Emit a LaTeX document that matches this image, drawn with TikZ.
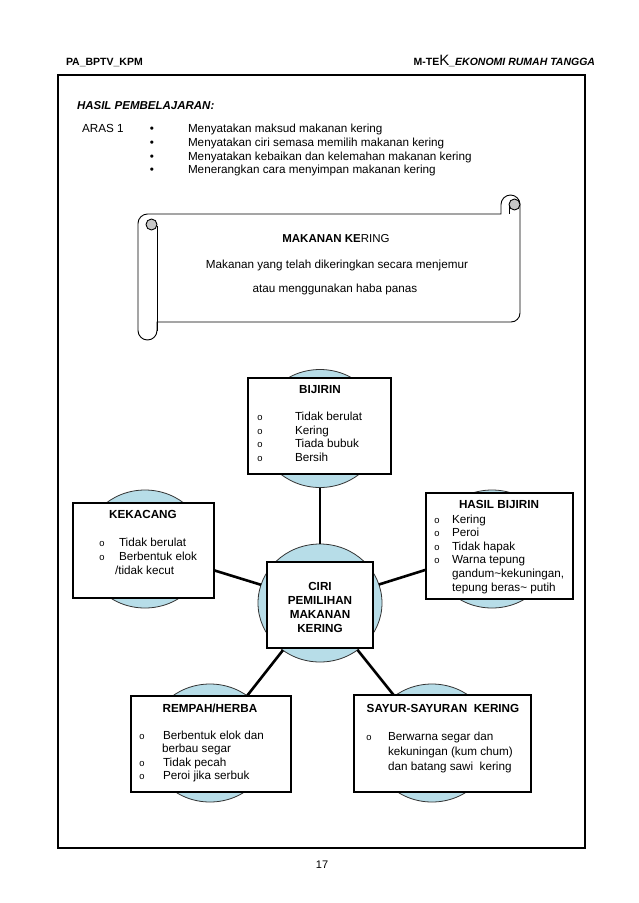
\documentclass[tikz,border=0pt]{standalone}
\usepackage{fontspec}
\setmainfont{Liberation Sans}
\setmonofont{Liberation Mono}
\usetikzlibrary{shapes.geometric}
\definecolor{cfill}{RGB}{183,221,232}
\definecolor{curlgray}{RGB}{200,200,200}
\begin{document}
\begin{tikzpicture}[x=1pt,y=-1pt,
  every node/.style={inner sep=0pt, outer sep=0pt},
  txt/.style={anchor=base west, font=\fontsize{11.7}{14}\selectfont},
  ctr/.style={anchor=base, font=\fontsize{11.7}{14}\selectfont},
  ttl/.style={anchor=base, font=\fontsize{11.7}{14}\selectfont\bfseries},
  obul/.style={anchor=base, font=\fontsize{9.5}{10}\ttfamily},
  dbul/.style={anchor=base, font=\fontsize{11.7}{14}\selectfont},
  blob/.style={ellipse, draw=black!80, line width=0.8pt, fill=cfill, minimum width=124pt, minimum height=118pt},
  card/.style={rectangle, draw=black, line width=1.1pt, fill=white},
  conn/.style={line width=2.6pt, black},
  scrollline/.style={line width=0.9pt, black},
]
\useasboundingbox (0,0) rectangle (638,903);
\fill[white] (0,0) rectangle (638,903);

% header
\node[anchor=base west, font=\fontsize{10.5}{12}\selectfont\bfseries] (hl) at (66,65) {PA\_BPTV\_KPM};
\node[anchor=base east, font=\fontsize{10.5}{12}\selectfont\bfseries] (hr) at (595,65) {M-TE{\fontsize{15}{15}\selectfont\mdseries K}\textit{\_EKONOMI RUMAH TANGGA}};

% frame
\draw[line width=2.6pt] (58,75) rectangle (585,848);

% learning outcomes
\node[anchor=base west, font=\fontsize{11.5}{14}\selectfont\bfseries\itshape] (hp) at (77,109.5) {HASIL PEMBELAJARAN:};
\node[txt] (aras) at (82,132.5) {ARAS 1};
\node[dbul] (b1) at (152,132.5) {\textbullet};
\node[dbul] (b2) at (152,146.3) {\textbullet};
\node[dbul] (b3) at (152,160.1) {\textbullet};
\node[dbul] (b4) at (152,173.9) {\textbullet};
\node[txt] (l1) at (188,132.5) {Menyatakan maksud makanan kering};
\node[txt] (l2) at (188,146.3) {Menyatakan ciri semasa memilih makanan kering};
\node[txt] (l3) at (188,160.1) {Menyatakan kebaikan dan kelemahan makanan kering};
\node[txt] (l4) at (188,173.9) {Menerangkan cara menyimpan makanan kering};

% scroll
\draw[scrollline, fill=white] (157,322) -- (511,322) arc[start angle=90, end angle=0, radius=9]
  -- (520,204.5) arc[start angle=0, end angle=-180, radius=9.5]
  -- (501,214) -- (147.5,214) arc[start angle=-90, end angle=-180, radius=9.5]
  -- (138,330.5) arc[start angle=180, end angle=0, radius=9.5] -- cycle;
\draw[scrollline] (157,226) -- (157,330.5);
\draw[scrollline, fill=curlgray] (151.5,224.5) circle[radius=5.5];
\draw[scrollline, fill=curlgray] (514.5,204.5) circle[radius=5.5];
\draw[scrollline] (509,204.5) -- (509,214);
\node[anchor=base, font=\fontsize{11.5}{14}\selectfont] (st) at (336,242) {\textbf{MAKANAN KE}RING};
\node[ctr] (s1) at (337,268) {Makanan yang telah dikeringkan secara menjemur};
\node[ctr] (s2) at (335,292.5) {atau menggunakan haba panas};

% circles
\node[blob] (c0) at (320,603) {};
\node[blob] (c1) at (320,428.5) {};
\node[blob] (c2) at (145,549) {};
\node[blob] (c3) at (492,549) {};
\node[blob] (c4) at (210,743) {};
\node[blob] (c5) at (432,743) {};

% connectors
\draw[conn] (c0) -- (c1);
\draw[conn] (c0) -- (c2);
\draw[conn] (c0) -- (c3);
\draw[conn] (c0) -- (c4);
\draw[conn] (c0) -- (c5);

% cards
\node[card, minimum width=143pt, minimum height=96pt] (k1) at (319.5,426) {};
\node[card, minimum width=141pt, minimum height=95pt] (k2) at (143.5,550.5) {};
\node[card, minimum width=147pt, minimum height=106pt] (k3) at (499.5,546) {};
\node[card, minimum width=106pt, minimum height=86pt] (k0) at (320,605) {};
\node[card, minimum width=160pt, minimum height=96pt] (k4) at (211,744) {};
\node[card, minimum width=177pt, minimum height=97pt] (k5) at (442.5,743.5) {};

% BIJIRIN
\node[ttl] (t1) at (320,393) {BIJIRIN};
\node[obul] (o11) at (260,420.5) {o};
\node[obul] (o12) at (260,434.2) {o};
\node[obul] (o13) at (260,447.9) {o};
\node[obul] (o14) at (260,461.6) {o};
\node[txt] (x11) at (295,420.5) {Tidak berulat};
\node[txt] (x12) at (295,434.2) {Kering};
\node[txt] (x13) at (295,447.9) {Tiada bubuk};
\node[txt] (x14) at (295,461.6) {Bersih};

% KEKACANG
\node[ttl] (t2) at (143,518) {KEKACANG};
\node[obul] (o21) at (102,546) {o};
\node[obul] (o22) at (102,560) {o};
\node[txt] (x21) at (119,546) {Tidak berulat};
\node[txt] (x22) at (119,560) {Berbentuk elok};
\node[txt] (x23) at (115,574) {/tidak kecut};

% HASIL BIJIRIN
\node[ttl] (t3) at (499,508) {HASIL BIJIRIN};
\node[obul] (o31) at (437,523) {o};
\node[obul] (o32) at (437,536.6) {o};
\node[obul] (o33) at (437,550.2) {o};
\node[obul] (o34) at (437,563.8) {o};
\node[txt] (x31) at (452,523) {Kering};
\node[txt] (x32) at (452,536.6) {Peroi};
\node[txt] (x33) at (452,550.2) {Tidak hapak};
\node[txt] (x34) at (452,563.8) {Warna tepung};
\node[txt] (x35) at (452,577.4) {gandum\char`\~kekuningan,};
\node[txt] (x36) at (452,591) {tepung beras\char`\~{} putih};

% centre
\node[ttl] (t01) at (320,590) {CIRI};
\node[ttl] (t02) at (320,604) {PEMILIHAN};
\node[ttl] (t03) at (320,618) {MAKANAN};
\node[ttl] (t04) at (320,632) {KERING};

% REMPAH/HERBA
\node[ttl] (t4) at (210,712) {REMPAH/HERBA};
\node[obul] (o41) at (142,739) {o};
\node[obul] (o42) at (142,766) {o};
\node[obul] (o43) at (142,779.5) {o};
\node[txt] (x41) at (163,739) {Berbentuk elok dan};
\node[txt] (x42) at (162,752.5) {berbau segar};
\node[txt] (x43) at (163,766) {Tidak pecah};
\node[txt] (x44) at (163,779.5) {Peroi jika serbuk};

% SAYUR
\node[ttl] (t5) at (443,712) {SAYUR-SAYURAN\ \ KERING};
\node[obul] (o51) at (369,740) {o};
\node[txt] (x51) at (388,740) {Berwarna segar dan};
\node[txt] (x52) at (388,755) {kekuningan (kum chum)};
\node[txt] (x53) at (388,770) {dan batang sawi\ \ kering};

% page number
\node[anchor=base, font=\fontsize{11}{13}\selectfont] (pg) at (322,868) {17};
\end{tikzpicture}
\end{document}
